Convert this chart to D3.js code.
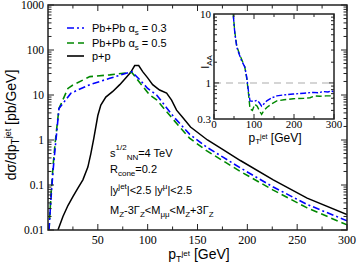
<!DOCTYPE html>
<html>
<head>
<meta charset="utf-8">
<script src="https://cdn.jsdelivr.net/npm/d3@7"></script>
<style>
  body { margin: 0; background: #fff; }
  svg { display: block; }
</style>
</head>
<body>
<svg id="chart" width="360" height="263"></svg>
<script>
// p+p cross section
const ppPt  = [10, 15, 20, 25, 30, 35, 40, 43, 46, 50, 53, 58, 65, 72, 78, 83, 87, 91, 95, 100, 105, 112, 119, 124, 129, 135, 143, 160, 176, 193, 226, 260, 300];
const ppVal = [0.01, 0.02, 0.035, 0.055, 0.085, 0.13, 0.25, 0.5, 1.1, 3.5, 6, 9, 12, 17, 24, 32, 45, 45, 33, 24, 17, 12.9, 11, 7.7, 4.6, 3.2, 1.94, 1.0, 0.6, 0.35, 0.13, 0.051, 0.022];

// Pb+Pb alpha_s = 0.3
const pb3Pt  = [1, 3, 5, 7, 9, 11, 23, 42, 62, 84, 92, 100, 109, 126, 142, 159, 176, 193, 226, 260, 300];
const pb3Val = [0.01, 0.05, 0.2, 0.6, 1.7, 5, 11, 17, 23.5, 33, 22, 14, 10, 3.3, 1.35, 0.7, 0.41, 0.24, 0.09, 0.037, 0.016];

// Pb+Pb alpha_s = 0.5
const pb5Pt  = [1, 3, 5, 7, 9, 11, 20, 25, 42, 62, 84, 92, 102, 109, 126, 142, 159, 176, 193, 226, 260, 300];
const pb5Val = [0.01, 0.06, 0.25, 0.8, 2, 5, 14, 16.7, 25.6, 28, 32, 19, 10, 7.8, 2.8, 1.1, 0.58, 0.34, 0.2, 0.077, 0.031, 0.013];

// inset I_AA
const iaa3Pt  = [46, 48, 52, 57, 63, 69, 77, 82, 86, 90, 100, 107, 113, 119, 125, 132, 145, 157, 175, 198, 225, 248, 260, 273, 285, 294, 300];
const iaa3Val = [14, 10, 5.3, 3.3, 2.6, 2.1, 1.7, 1.2, 0.77, 0.55, 0.54, 0.56, 0.52, 0.46, 0.5, 0.55, 0.61, 0.65, 0.67, 0.69, 0.71, 0.73, 0.72, 0.75, 0.74, 0.77, 0.73];
const iaa5Pt  = [46, 48, 52, 57, 63, 69, 77, 82, 86, 90, 96, 102, 108, 113, 119, 125, 132, 145, 157, 175, 198, 225, 240, 252, 265, 280, 290, 300];
const iaa5Val = [14, 10, 5.5, 3.4, 2.7, 2.2, 1.7, 1.15, 0.72, 0.42, 0.4, 0.49, 0.46, 0.4, 0.35, 0.4, 0.44, 0.5, 0.55, 0.57, 0.59, 0.6, 0.61, 0.65, 0.64, 0.65, 0.65, 0.61];

const mainYTicks = [0.01, 0.1, 1, 10, 100, 1000];
const mainXTicks = [50, 100, 150, 200, 250, 300];
const insetYTicks = [0.3, 1, 10];
const insetXTicks = [0, 100, 200, 300];

const svg = d3.select('#chart');
const serif = '"Liberation Serif", "DejaVu Serif", serif';
const sans = '"Liberation Sans", Arial, sans-serif';

const blue = '#0000ff', green = '#008800';

// main scales
const x = d3.scaleLinear().domain([0, 300]).range([48, 347]);
const y = d3.scaleLog().domain([0.01, 1000]).range([230, 5]);

const minorLog = (lo, hi) => {
	const out = [];
	for (let e = Math.floor(Math.log10(lo)); e <= Math.ceil(Math.log10(hi)); e++) {
		for (let k = 2; k <= 9; k++) {
			const v = k * Math.pow(10, e);
			if (v > lo && v < hi) out.push(v);
		}
	}
	return out;
};

function drawFrame(g, xs, ys, xMaj, xMin, yMaj, yMin, majLen, minLen) {
	const [x0, x1] = xs.range();
	const [y0, y1] = ys.range();
	const tick = (x1_, y1_, x2_, y2_) =>
		g.append('line').attr('x1', x1_).attr('y1', y1_).attr('x2', x2_).attr('y2', y2_)
			.attr('stroke', '#222').attr('stroke-width', 1);
	xMaj.forEach(v => { tick(xs(v), y0, xs(v), y0 - majLen); tick(xs(v), y1, xs(v), y1 + majLen); });
	xMin.forEach(v => { tick(xs(v), y0, xs(v), y0 - minLen); tick(xs(v), y1, xs(v), y1 + minLen); });
	yMaj.forEach(v => { tick(x0, ys(v), x0 + majLen, ys(v)); tick(x1, ys(v), x1 - majLen, ys(v)); });
	yMin.forEach(v => { tick(x0, ys(v), x0 + minLen, ys(v)); tick(x1, ys(v), x1 - minLen, ys(v)); });
	g.append('rect').attr('x', x0).attr('y', y1).attr('width', x1 - x0).attr('height', y0 - y1)
		.attr('fill', 'none').attr('stroke', '#222').attr('stroke-width', 1.5);
}

// clip for main
svg.append('clipPath').attr('id', 'clipMain').append('rect')
	.attr('x', 48).attr('y', 5).attr('width', 299).attr('height', 225);

const line = (xs, ys) => d3.line().x(d => xs(d[0])).y(d => ys(d[1]));
const zip = (a, b) => a.map((v, i) => [v, b[i]]);

const plot = svg.append('g').attr('clip-path', 'url(#clipMain)');
const mainLine = line(x, y);
plot.append('path').attr('d', mainLine(zip(ppPt, ppVal)))
	.attr('fill', 'none').attr('stroke', '#000').attr('stroke-width', 1.5);
plot.append('path').attr('d', mainLine(zip(pb5Pt, pb5Val)))
	.attr('fill', 'none').attr('stroke', green).attr('stroke-width', 1.6).attr('stroke-dasharray', '7,4');
plot.append('path').attr('d', mainLine(zip(pb3Pt, pb3Val)))
	.attr('fill', 'none').attr('stroke', blue).attr('stroke-width', 1.6).attr('stroke-dasharray', '7,3,2,3');

drawFrame(svg.append('g'), x, y,
	mainXTicks, [25, 75, 125, 175, 225, 275],
	mainYTicks, minorLog(0.01, 1000), 6, 3.5);

// main tick labels
svg.append('g').selectAll('text').data(mainYTicks).enter().append('text')
	.attr('x', 44).attr('y', d => y(d)).attr('dy', '0.35em')
	.attr('text-anchor', 'end').style('font', `11.5px ${serif}`).text(d => String(d));
svg.append('g').selectAll('text').data(mainXTicks).enter().append('text')
	.attr('x', d => x(d)).attr('y', 244)
	.attr('text-anchor', 'middle').style('font', `12px ${serif}`).text(d => String(d));

// axis titles
const xt = svg.append('text').attr('x', 199).attr('y', 259).attr('text-anchor', 'middle')
	.style('font', `14px ${sans}`);
xt.append('tspan').text('p');
xt.append('tspan').attr('dy', 3).style('font-size', '9px').text('T');
xt.append('tspan').attr('dy', -6).style('font-size', '8px').text('jet');
xt.append('tspan').attr('dy', 3).text(' [GeV]');

const yt = svg.append('text').attr('transform', 'translate(16,125) rotate(-90)')
	.attr('text-anchor', 'middle').style('font', `14px ${sans}`);
yt.append('tspan').text('dσ/dp');
yt.append('tspan').attr('dy', 3).style('font-size', '10px').text('T');
yt.append('tspan').attr('dy', -8).style('font-size', '9px').text('jet');
yt.append('tspan').attr('dy', 5).text(' [pb/GeV]');

// legend
const legend = [
	{ label: '0.3', color: blue, dash: '7,3,2,3', ax: true, y: 28 },
	{ label: '0.5', color: green, dash: '7,4', ax: true, y: 43 },
	{ label: 'p+p', color: '#000', dash: null, ax: false, y: 56 },
];
legend.forEach(l => {
	svg.append('line').attr('x1', 67).attr('x2', 84).attr('y1', l.y).attr('y2', l.y)
		.attr('stroke', l.color).attr('stroke-width', 1.6).attr('stroke-dasharray', l.dash);
	const t = svg.append('text').attr('x', 92).attr('y', l.y + 4).style('font', `11px ${sans}`);
	if (l.ax) {
		t.append('tspan').text('Pb+Pb α');
		t.append('tspan').attr('dy', 3).style('font-size', '8px').text('s');
		t.append('tspan').attr('dy', -3).text(' = ' + l.label);
	} else {
		t.text(l.label);
	}
});

// annotations
const ann = (yy) => svg.append('text').attr('x', 110).attr('y', yy).style('font', `11px ${sans}`);
let a = ann(157);
a.append('tspan').text('s');
a.append('tspan').attr('dy', -7).style('font-size', '8px').text('1/2');
a.append('tspan').attr('dy', 10).style('font-size', '8px').text('NN');
a.append('tspan').attr('dy', -3).text('=4 TeV');
a = ann(173);
a.append('tspan').text('R');
a.append('tspan').attr('dy', 3).style('font-size', '8px').text('cone');
a.append('tspan').attr('dy', -3).text('=0.2');
a = ann(194);
a.append('tspan').text('|y');
a.append('tspan').attr('dy', -5).style('font-size', '8px').text('jet');
a.append('tspan').attr('dy', 5).text('|<2.5 |y');
a.append('tspan').attr('dy', -5).style('font-size', '8px').text('μ');
a.append('tspan').attr('dy', 5).text('|<2.5');
a = ann(214);
[['M', 0], ['Z', 1], ['-3Γ', 0], ['Z', 1], ['<M', 0], ['μμ', 1], ['<M', 0], ['Z', 1], ['+3Γ', 0], ['Z', 1]]
	.reduce((prev, [s, sub]) => {
		a.append('tspan').attr('dy', sub - prev ? (sub ? 3 : -3) : 0)
			.style('font-size', sub ? '8px' : null).text(s);
		return sub;
	}, 0);

// inset
const xi = d3.scaleLinear().domain([0, 300]).range([214, 334]);
const yi = d3.scaleLog().domain([0.3, 10]).range([119, 14]);
const inset = svg.append('g');
inset.append('rect').attr('x', 214).attr('y', 14).attr('width', 120).attr('height', 105).attr('fill', '#fff');
svg.append('clipPath').attr('id', 'clipInset').append('rect')
	.attr('x', 214).attr('y', 14).attr('width', 120).attr('height', 105);
const ip = inset.append('g').attr('clip-path', 'url(#clipInset)');
ip.append('line').attr('x1', 214).attr('x2', 334).attr('y1', yi(1)).attr('y2', yi(1))
	.attr('stroke', '#c8c8c8').attr('stroke-width', 1.5).attr('stroke-dasharray', '7,5');
const insetLine = line(xi, yi);
ip.append('path').attr('d', insetLine(zip(iaa5Pt, iaa5Val)))
	.attr('fill', 'none').attr('stroke', green).attr('stroke-width', 1.4).attr('stroke-dasharray', '6,3');
ip.append('path').attr('d', insetLine(zip(iaa3Pt, iaa3Val)))
	.attr('fill', 'none').attr('stroke', blue).attr('stroke-width', 1.4).attr('stroke-dasharray', '6,2,2,2');
drawFrame(inset.append('g'), xi, yi,
	insetXTicks, [50, 150, 250],
	[1], [0.4, 0.5, 0.6, 0.7, 0.8, 0.9, 2, 3, 4, 5, 6, 7, 8, 9], 5, 3);

inset.append('g').selectAll('text').data(insetYTicks).enter().append('text')
	.attr('x', 211).attr('y', d => yi(d)).attr('dy', '0.35em')
	.attr('text-anchor', 'end').style('font', `11px ${serif}`).text(d => String(d));
inset.append('g').selectAll('text').data(insetXTicks).enter().append('text')
	.attr('x', d => xi(d)).attr('y', 128)
	.attr('text-anchor', 'middle').style('font', `11px ${serif}`).text(d => String(d));

const it = svg.append('text').attr('x', 275).attr('y', 142).attr('text-anchor', 'middle')
	.style('font', `12px ${sans}`);
it.append('tspan').text('p');
it.append('tspan').attr('dy', 2).style('font-size', '8px').text('T');
it.append('tspan').attr('dy', -5).style('font-size', '7px').text('jet');
it.append('tspan').attr('dy', 3).text(' [GeV]');

const iy = svg.append('text').attr('transform', 'translate(209,62) rotate(-90)')
	.attr('text-anchor', 'middle').style('font', `11px ${sans}`);
iy.append('tspan').text('I');
iy.append('tspan').attr('dy', 3).style('font-size', '8px').text('AA');
</script>
</body>
</html>
